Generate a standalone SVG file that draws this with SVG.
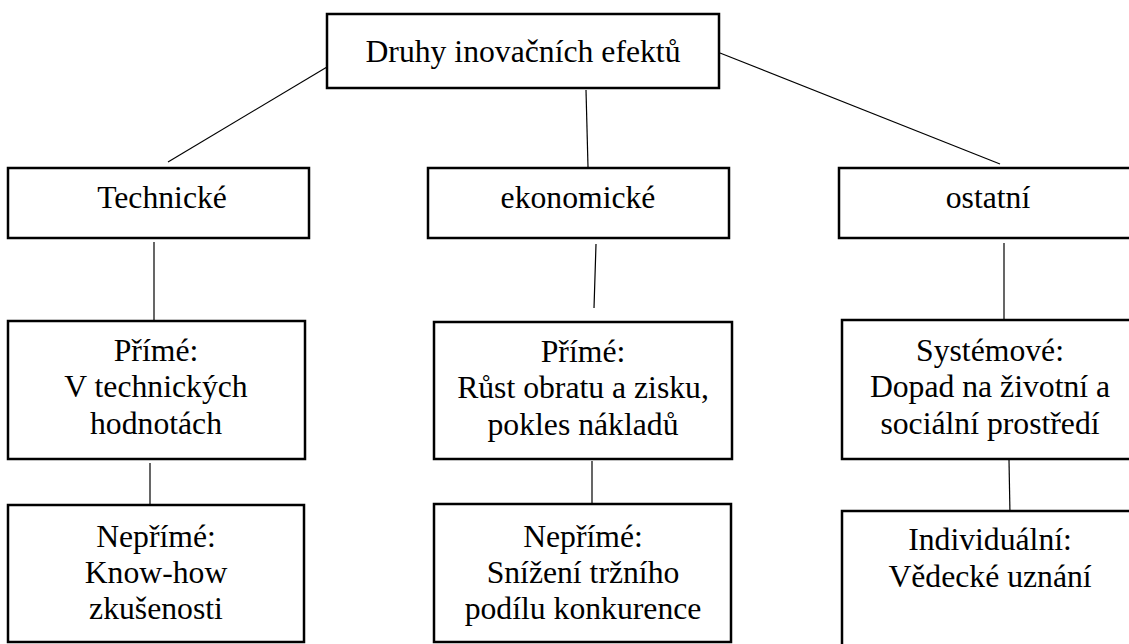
<svg xmlns="http://www.w3.org/2000/svg" width="1129" height="644" viewBox="0 0 1129 644">
<style>
.box{fill:#fff;stroke:#000;stroke-width:2.5}
.t{font-family:"Liberation Serif","Times New Roman",serif;font-size:31.7px;fill:#000;text-anchor:middle}
.c{stroke:#000;stroke-width:1.2;fill:none}
</style>
<rect width="1129" height="644" fill="#fff"/>
<g id="connectors">
<line class="c" x1="327" y1="67" x2="168" y2="162"/>
<line class="c" x1="586" y1="90" x2="588" y2="167"/>
<line class="c" x1="720" y1="53" x2="1000" y2="164"/>
<line class="c" x1="154" y1="242" x2="154" y2="320"/>
<line class="c" x1="596" y1="244" x2="594" y2="308"/>
<line class="c" x1="1004" y1="243" x2="1004" y2="322"/>
<line class="c" x1="150" y1="463" x2="150" y2="504"/>
<line class="c" x1="592" y1="461" x2="592" y2="503"/>
<line class="c" x1="1009" y1="460" x2="1010" y2="515"/>
</g>
<g id="root">
<rect class="box" x="327" y="14" width="392" height="74"/>
<text class="t" x="523" y="62">Druhy inovačních efektů</text>
</g>
<g id="technicke">
<rect class="box" x="8" y="168" width="301" height="70"/>
<text class="t" x="162" y="208">Technické</text>
</g>
<g id="ekonomicke">
<rect class="box" x="428" y="168" width="301" height="70"/>
<text class="t" x="578" y="208">ekonomické</text>
</g>
<g id="ostatni">
<rect class="box" x="839" y="168" width="300" height="70"/>
<text class="t" x="988" y="208">ostatní</text>
</g>
<g id="tech-prime">
<rect class="box" x="8" y="321" width="297" height="138"/>
<text class="t" x="156" y="361">Přímé:</text>
<text class="t" x="156" y="397">V technických</text>
<text class="t" x="156" y="434">hodnotách</text>
</g>
<g id="tech-neprime">
<rect class="box" x="8" y="505" width="296" height="137"/>
<text class="t" x="156" y="547">Nepřímé:</text>
<text class="t" x="156" y="583">Know-how</text>
<text class="t" x="156" y="619">zkušenosti</text>
</g>
<g id="eko-prime">
<rect class="box" x="434" y="322" width="298" height="137"/>
<text class="t" x="583" y="362">Přímé:</text>
<text class="t" x="583" y="398">Růst obratu a zisku,</text>
<text class="t" x="583" y="435">pokles nákladů</text>
</g>
<g id="eko-neprime">
<rect class="box" x="434" y="504" width="297" height="138"/>
<text class="t" x="583" y="547">Nepřímé:</text>
<text class="t" x="583" y="583">Snížení tržního</text>
<text class="t" x="583" y="619">podílu konkurence</text>
</g>
<g id="systemove">
<rect class="box" x="842" y="320" width="300" height="139"/>
<text class="t" x="990" y="361">Systémové:</text>
<text class="t" x="990" y="397">Dopad na životní a</text>
<text class="t" x="990" y="434">sociální prostředí</text>
</g>
<g id="individualni">
<rect class="box" x="842" y="511" width="300" height="145"/>
<text class="t" x="990" y="550">Individuální:</text>
<text class="t" x="990" y="587">Vědecké uznání</text>
</g>
</svg>
